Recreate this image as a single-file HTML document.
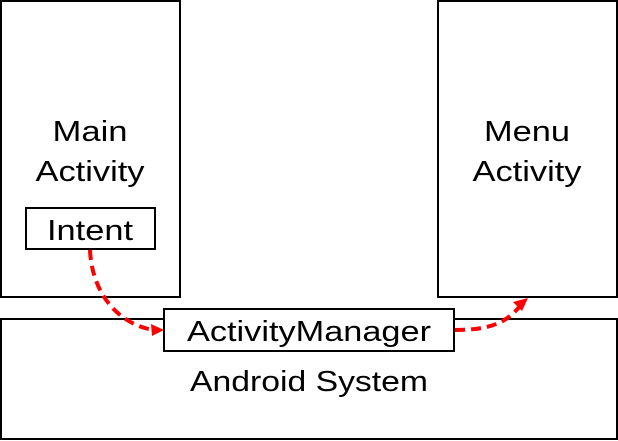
<!DOCTYPE html>
<html><head><style>
body{margin:0;background:#fff;}
svg{display:block;}
text{font-family:"Liberation Sans","Noto Sans CJK KR",sans-serif;font-size:29px;fill:#000;text-anchor:middle;}
</style></head><body>
<svg width="618" height="441" viewBox="0 0 618 441">
<rect x="1" y="1" width="179" height="296" fill="#fff" stroke="#000" stroke-width="2"/>
<rect x="438" y="1" width="179" height="296" fill="#fff" stroke="#000" stroke-width="2"/>
<rect x="1" y="319" width="616" height="120" fill="#fff" stroke="#000" stroke-width="2"/>
<text x="90" y="141" textLength="75" lengthAdjust="spacingAndGlyphs">Main</text>
<text x="90" y="181" textLength="109" lengthAdjust="spacingAndGlyphs">Activity</text>
<text x="527" y="141" textLength="86" lengthAdjust="spacingAndGlyphs">Menu</text>
<text x="527" y="181" textLength="109" lengthAdjust="spacingAndGlyphs">Activity</text>
<rect x="26" y="208" width="129" height="41" fill="#fff" stroke="#000" stroke-width="2"/>
<text x="90" y="240" textLength="86" lengthAdjust="spacingAndGlyphs">Intent</text>
<text x="309" y="391" textLength="238" lengthAdjust="spacingAndGlyphs">Android System</text>
<rect x="164" y="309" width="290" height="42" fill="#fff" stroke="#000" stroke-width="2"/>
<text x="309" y="341" textLength="244" lengthAdjust="spacingAndGlyphs">ActivityManager</text>
<path d="M90 250 C92 295 120 325 154 330" fill="none" stroke="#f00" stroke-width="4" stroke-dasharray="10,6"/>
<polygon points="164,330 151,324 152,336" fill="#f00"/>
<path d="M455 330 C485 330 505 325 520 306" fill="none" stroke="#f00" stroke-width="4" stroke-dasharray="10,6"/>
<polygon points="528,298 513,302 522,311" fill="#f00"/>
</svg>
</body></html>
